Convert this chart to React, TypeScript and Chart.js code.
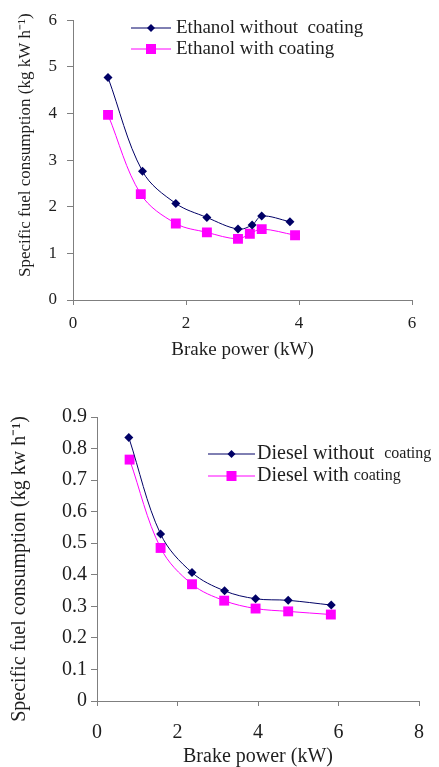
import React, { useEffect, useRef } from "react";
import { Chart, registerables } from "chart.js";

Chart.register(...registerables);

// ---------- data ----------
const ethanolPowerA = [0.62, 1.23, 1.82, 2.37, 2.92, 3.17, 3.34, 3.84];
const ethanolWithoutCoating = [4.77, 2.76, 2.07, 1.77, 1.52, 1.61, 1.8, 1.68];
const ethanolPowerB = [0.62, 1.2, 1.82, 2.37, 2.92, 3.13, 3.34, 3.93];
const ethanolWithCoating = [3.97, 2.27, 1.64, 1.45, 1.31, 1.42, 1.52, 1.39];

const dieselPowerA = [0.79, 1.58, 2.36, 3.17, 3.94, 4.75, 5.82];
const dieselWithoutCoating = [0.835, 0.529, 0.407, 0.349, 0.324, 0.319, 0.304];
const dieselPowerB = [0.81, 1.58, 2.36, 3.16, 3.94, 4.75, 5.81];
const dieselWithCoating = [0.765, 0.485, 0.37, 0.318, 0.293, 0.284, 0.274];

const ethanolXTicks = [0, 2, 4, 6];
const ethanolYTicks = [0, 1, 2, 3, 4, 5, 6];
const dieselXTicks = [0, 2, 4, 6, 8];
const dieselYTicks = [0, 0.1, 0.2, 0.3, 0.4, 0.5, 0.6, 0.7, 0.8, 0.9];

const ethanolLabels = ["Ethanol without  coating", "Ethanol with coating"];
const dieselLabels = [
  ["Diesel without  ", "coating"],
  ["Diesel with ", "coating"],
];

const xTitle = "Brake power (kW)";
const ethanolYTitle = "Specific fuel consumption (kg kW h\u207B\u00B9)";
const dieselYTitle = "Specific fuel consumption (kg kw h\u207B\u00B9)";

// ---------- styles ----------
const NAVY = "#000066";
const MAGENTA = "#ff00ff";
const AXIS = "#7f7f7f";
const TEXT = "#1e1e1e";
const FONT = "'Liberation Serif', 'Times New Roman', serif";

const pairs = (xs: number[], ys: number[]) => xs.map((x, i) => ({ x, y: ys[i] }));

const legendPlugin = {
  id: "inlineLegend",
  afterDatasetsDraw(chart: any, _args: any, opts: any) {
    const ctx = chart.ctx;
    ctx.save();
    chart.data.datasets.forEach((ds: any, i: number) => {
      const y = opts.y + i * opts.rowGap;
      const x0 = opts.x;
      const x1 = opts.x + opts.lineLen;
      ctx.strokeStyle = ds.borderColor;
      ctx.lineWidth = 1;
      ctx.beginPath();
      ctx.moveTo(x0, y);
      ctx.lineTo(x1, y);
      ctx.stroke();
      const cx = (x0 + x1) / 2;
      ctx.fillStyle = ds.pointBackgroundColor;
      ctx.beginPath();
      if (ds.pointStyle === "rectRot") {
        const r = opts.diamond;
        ctx.moveTo(cx - r, y);
        ctx.lineTo(cx, y - r);
        ctx.lineTo(cx + r, y);
        ctx.lineTo(cx, y + r);
        ctx.closePath();
      } else {
        const s = opts.square;
        ctx.rect(cx - s, y - s, 2 * s, 2 * s);
      }
      ctx.fill();
      const parts: string[] = Array.isArray(opts.labels[i]) ? opts.labels[i] : [opts.labels[i]];
      let tx = opts.textX;
      ctx.fillStyle = TEXT;
      ctx.textBaseline = "middle";
      ctx.textAlign = "left";
      parts.forEach((p, k) => {
        const size = opts.sizes[k] ?? opts.sizes[0];
        ctx.font = `${size}px ${FONT}`;
        ctx.fillText(p, tx, y);
        tx += ctx.measureText(p).width;
      });
    });
    ctx.restore();
  },
};

// Vertical axis title, drawn beside the y axis
const yTitlePlugin = {
  id: "yTitle",
  afterDraw(chart: any, _args: any, opts: any) {
    const ctx = chart.ctx;
    const area = chart.chartArea;
    ctx.save();
    ctx.translate(opts.x, (area.top + area.bottom) / 2 + opts.dy);
    ctx.rotate(-Math.PI / 2);
    ctx.font = `${opts.size}px ${FONT}`;
    ctx.fillStyle = TEXT;
    ctx.textAlign = "center";
    ctx.textBaseline = "middle";
    ctx.fillText(opts.text, 0, 0);
    ctx.restore();
  },
};

function makeConfig(p: any) {
  return {
    type: "line",
    data: {
      datasets: [
        {
          label: "a",
          data: pairs(p.xa, p.ya),
          borderColor: NAVY,
          backgroundColor: NAVY,
          pointBackgroundColor: NAVY,
          pointBorderColor: NAVY,
          pointBorderWidth: 0,
          pointStyle: "rectRot",
          pointRadius: p.diamondR,
          borderWidth: 1,
          tension: 0.35,
          fill: false,
        },
        {
          label: "b",
          data: pairs(p.xb, p.yb),
          borderColor: MAGENTA,
          backgroundColor: MAGENTA,
          pointBackgroundColor: MAGENTA,
          pointBorderColor: MAGENTA,
          pointBorderWidth: 0,
          pointStyle: "rect",
          pointRadius: p.squareR,
          borderWidth: 1,
          tension: 0.35,
          fill: false,
        },
      ],
    },
    options: {
      animation: false,
      responsive: false,
      layout: { padding: p.padding },
      plugins: {
        legend: { display: false },
        tooltip: { enabled: false },
        inlineLegend: p.legend,
        yTitle: p.yTitle,
      },
      scales: {
        x: {
          type: "linear",
          min: p.xTicks[0],
          max: p.xTicks[p.xTicks.length - 1],
          afterFit: (s: any) => {
            s.height = p.xAxisHeight;
          },
          afterBuildTicks: (s: any) => {
            s.ticks = p.xTicks.map((v: number) => ({ value: v }));
          },
          grid: { drawOnChartArea: false, drawTicks: true, tickLength: 5, color: AXIS },
          border: { color: AXIS, width: 1 },
          ticks: {
            color: TEXT,
            padding: p.xTickPad,
            font: { family: FONT, size: p.tickSize },
            callback: (v: number) => String(v),
          },
          title: {
            display: true,
            text: xTitle,
            color: TEXT,
            font: { family: FONT, size: p.xTitleSize, lineHeight: 1 },
            padding: { top: 0, bottom: p.xTitlePadBottom },
          },
        },
        y: {
          type: "linear",
          min: p.yTicks[0],
          max: p.yTicks[p.yTicks.length - 1],
          afterFit: (s: any) => {
            s.width = p.yAxisWidth;
          },
          afterBuildTicks: (s: any) => {
            s.ticks = p.yTicks.map((v: number) => ({ value: v }));
          },
          grid: { drawOnChartArea: false, drawTicks: true, tickLength: 6, color: AXIS },
          border: { color: AXIS, width: 1 },
          ticks: {
            color: TEXT,
            padding: p.yTickPad,
            font: { family: FONT, size: p.tickSize },
            callback: (v: number) => (v === 0 ? "0" : p.yDecimals ? Number(v).toFixed(p.yDecimals) : String(v)),
          },
          title: { display: false },
        },
      },
    },
    plugins: [legendPlugin, yTitlePlugin],
  };
}

function ChartCanvas({ config, width, height, top }: any) {
  const ref = useRef<HTMLCanvasElement | null>(null);
  useEffect(() => {
    if (!ref.current) return;
    const chart = new Chart(ref.current, config);
    return () => chart.destroy();
  }, []);
  return (
    <canvas
      ref={ref}
      width={width}
      height={height}
      style={{ position: "absolute", left: 0, top, width, height, display: "block" }}
    />
  );
}

export default function App() {
  const ethanolConfig = makeConfig({
    xa: ethanolPowerA,
    ya: ethanolWithoutCoating,
    xb: ethanolPowerB,
    yb: ethanolWithCoating,
    xTicks: ethanolXTicks,
    yTicks: ethanolYTicks,
    yDecimals: 0,
    yTitle: { text: ethanolYTitle, size: 17, x: 26, dy: -15 },
    padding: { top: 15, right: 27, left: 0, bottom: 0 },
    xAxisHeight: 70,
    yAxisWidth: 73,
    tickSize: 17,
    xTickPad: 8,
    yTickPad: 10,
    xTitleSize: 19,
    xTitlePadBottom: 10,
    diamondR: 4.5,
    squareR: 7,
    legend: {
      x: 131,
      y: 28,
      rowGap: 21,
      lineLen: 40,
      textX: 176,
      diamond: 4,
      square: 5,
      labels: ethanolLabels,
      sizes: [19],
    },
  });

  const dieselConfig = makeConfig({
    xa: dieselPowerA,
    ya: dieselWithoutCoating,
    xb: dieselPowerB,
    yb: dieselWithCoating,
    xTicks: dieselXTicks,
    yTicks: dieselYTicks,
    yDecimals: 1,
    yTitle: { text: dieselYTitle, size: 20, x: 20, dy: 10 },
    padding: { top: 37, right: 20, left: 0, bottom: 0 },
    xAxisHeight: 66,
    yAxisWidth: 97,
    tickSize: 20,
    xTickPad: 15,
    yTickPad: 4,
    xTitleSize: 20,
    xTitlePadBottom: 0,
    diamondR: 4.5,
    squareR: 7,
    legend: {
      x: 208,
      y: 74,
      rowGap: 22,
      lineLen: 47,
      textX: 257,
      diamond: 4,
      square: 5,
      labels: dieselLabels,
      sizes: [20, 16],
    },
  });

  return (
    <div style={{ position: "absolute", left: 0, top: 0, width: 439, height: 767, background: "#fff", overflow: "hidden" }}>
      <ChartCanvas config={ethanolConfig} width={439} height={370} top={0} />
      <ChartCanvas config={dieselConfig} width={439} height={387} top={380} />
    </div>
  );
}
